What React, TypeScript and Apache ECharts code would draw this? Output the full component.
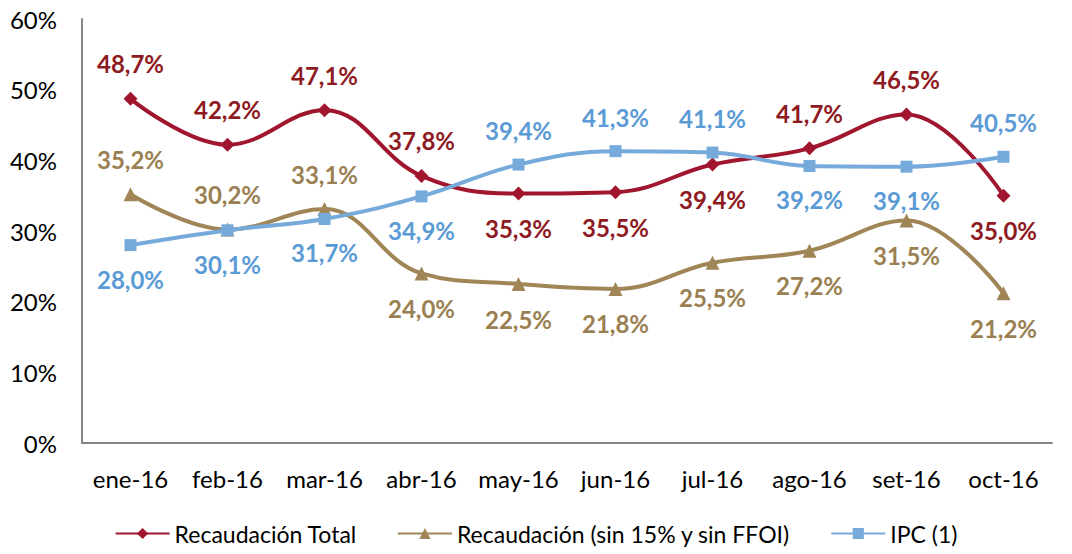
import React, { useEffect, useRef } from "react";
import * as echarts from "echarts";

const categories = ["ene-16", "feb-16", "mar-16", "abr-16", "may-16", "jun-16", "jul-16", "ago-16", "set-16", "oct-16"];
const recTotal = [48.7, 42.2, 47.1, 37.8, 35.3, 35.5, 39.4, 41.7, 46.5, 35.0];
const recSin = [35.2, 30.2, 33.1, 24.0, 22.5, 21.8, 25.5, 27.2, 31.5, 21.2];
const ipc = [28.0, 30.1, 31.7, 34.9, 39.4, 41.3, 41.1, 39.2, 39.1, 40.5];
const yTicks = [0, 10, 20, 30, 40, 50, 60];

const recTotalPos = ["top", "top", "top", "top", "bottom", "bottom", "bottom", "top", "top", "bottom"];
const recSinPos = ["top", "top", "top", "bottom", "bottom", "bottom", "bottom", "bottom", "bottom", "bottom"];
const ipcPos = ["bottom", "bottom", "bottom", "bottom", "top", "top", "top", "bottom", "bottom", "top"];

const FONT = "Lato, 'Liberation Sans', sans-serif";
const fmt = (v: number) => v.toFixed(1).replace(".", ",") + "%";

function mkSeries(name: string, values: number[], pos: string[], color: string, labelColor: string, symbol: string, symbolSize: number) {
  return {
    name,
    type: "line",
    smooth: 0.4,
    symbol,
    symbolSize,
    lineStyle: { color, width: 4 },
    itemStyle: { color },
    data: values.map((v, i) => ({
      value: v,
      label: { position: pos[i] },
    })),
    label: {
      show: true,
      distance: 16,
      color: labelColor,
      fontFamily: FONT,
      fontWeight: "bold",
      fontSize: 24,
      formatter: (p: any) => fmt(p.value),
    },
  };
}

export default function App() {
  const ref = useRef<HTMLDivElement>(null);
  useEffect(() => {
    if (!ref.current) return;
    const chart = echarts.init(ref.current, undefined, { renderer: "svg" });
    chart.setOption({
      animation: false,
      backgroundColor: "#ffffff",
      grid: { left: 82, right: 20, top: 19, bottom: 111, containLabel: false },
      legend: {
        bottom: 4,
        left: "center",
        itemWidth: 54,
        itemHeight: 14,
        itemGap: 40,
        textStyle: { fontFamily: FONT, fontSize: 23, color: "#000" },
        data: ["Recaudación Total", "Recaudación (sin 15% y sin FFOI)", "IPC (1)"],
      },
      xAxis: {
        type: "category",
        data: categories,
        boundaryGap: true,
        axisLine: { lineStyle: { color: "#868686", width: 2 } },
        axisTick: { alignWithLabel: true, interval: 0, length: 6, lineStyle: { color: "#868686", width: 1 } },
        axisLabel: { interval: 0, hideOverlap: false, fontFamily: FONT, fontSize: 24, color: "#000", margin: 23 },
      },
      yAxis: {
        type: "value",
        min: yTicks[0],
        max: yTicks[yTicks.length - 1],
        interval: 10,
        axisLine: { show: true, lineStyle: { color: "#868686", width: 2 } },
        axisTick: { show: false },
        splitLine: { show: false },
        axisLabel: { fontFamily: FONT, fontSize: 24, color: "#000", margin: 25, formatter: (v: number) => v + "%" },
      },
      series: [
        mkSeries("Recaudación Total", recTotal, recTotalPos, "#A0162E", "#8E1A22", "diamond", 14),
        mkSeries("Recaudación (sin 15% y sin FFOI)", recSin, recSinPos, "#A08556", "#9A7F52", "triangle", 14),
        mkSeries("IPC (1)", ipc, ipcPos, "#76AADB", "#5B9BD5", "rect", 12),
      ],
    });
    return () => chart.dispose();
  }, []);
  return <div ref={ref} style={{ position: "fixed", left: 0, top: 0, width: 1072, height: 554 }} />;
}
